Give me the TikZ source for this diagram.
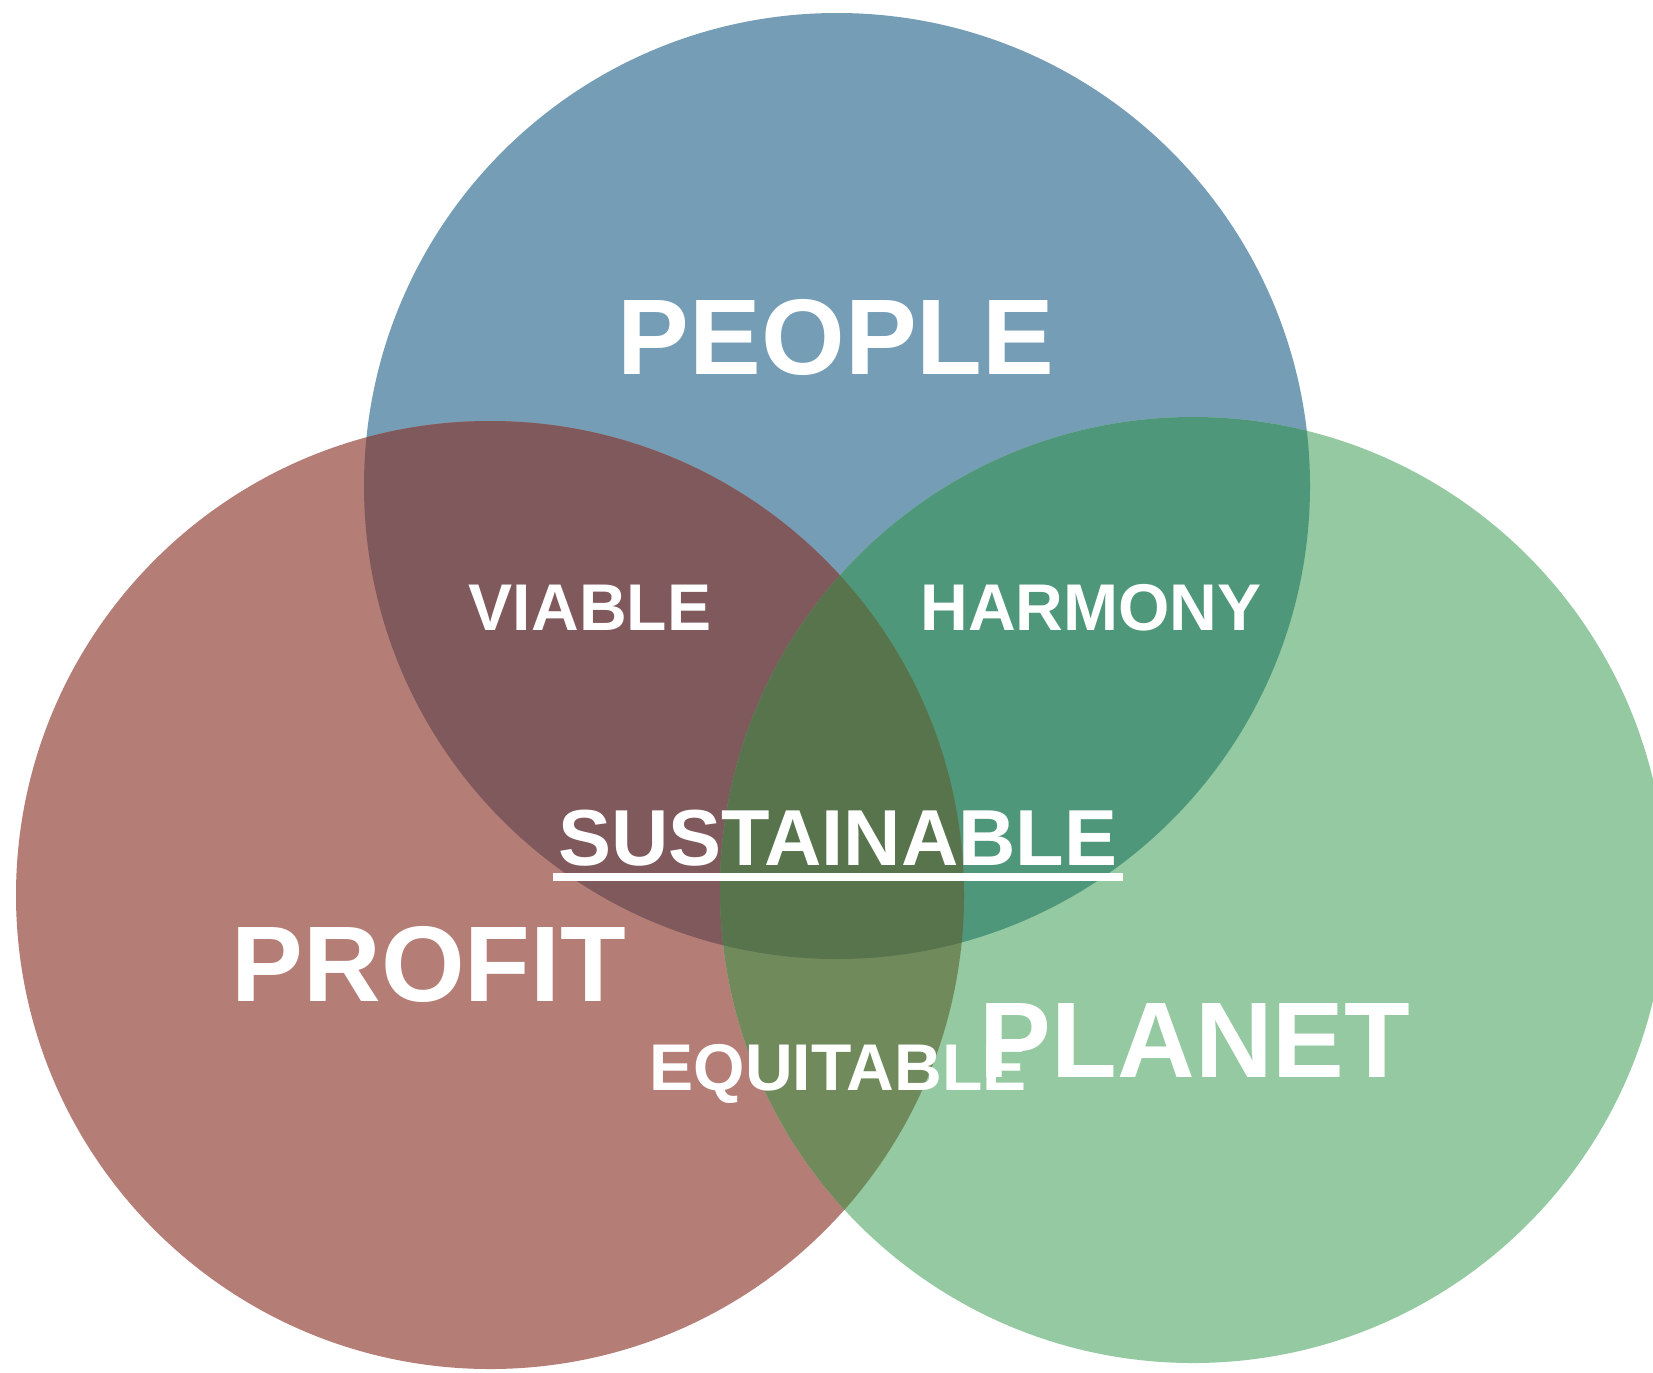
\documentclass[tikz,border=0pt]{standalone}
\usepackage{fontspec}
\setmainfont{Liberation Sans}
\definecolor{blau}{RGB}{117,157,182}
\definecolor{rot}{RGB}{180,125,118}
\definecolor{gruen}{RGB}{148,201,161}
\definecolor{rotblau}{RGB}{127,89,92}
\definecolor{gruenblau}{RGB}{78,151,122}
\definecolor{gruenrot}{RGB}{112,138,92}
\definecolor{mitte}{RGB}{87,116,76}
\begin{document}
\begin{tikzpicture}[x=0.1mm,y=-0.1mm,
  wort/.style={text=white,inner sep=0pt,anchor=base},
  gross/.style={wort,font=\fontsize{30.6}{36}\selectfont\bfseries},
  klein/.style={wort,font=\fontsize{18.8}{22}\selectfont\bfseries}]
  \clip (0,0) rectangle (1653,1372);

  % Mittelpunkte
  \coordinate (M1) at (837,486);
  \coordinate (M2) at (490,895);
  \coordinate (M3) at (1193,890);

  % Kreise
  \fill[blau] (M1) circle (473);
  \fill[rot] (M2) circle (474);
  \fill[gruen] (M3) circle (473);

  % Schnittflaechen
  \begin{scope}
    \clip (M1) circle (473);
    \fill[rotblau] (M2) circle (474);
    \fill[gruenblau] (M3) circle (473);
  \end{scope}
  \begin{scope}
    \clip (M2) circle (474);
    \fill[gruenrot] (M3) circle (473);
    \clip (M1) circle (473);
    \fill[mitte] (M3) circle (473);
  \end{scope}

  % Beschriftung
  \node[gross] (people) at (836,374) {PEOPLE};
  \node[gross] (profit) at (429,1001) {PROFIT};
  \node[gross] (planet) at (1195,1077) {PLANET};
  \node[klein] (viable) at (590,630) {VIABLE};
  \node[klein] (harmony) at (1091,630) {HARMONY};
  \node[klein] (equitable) at (838,1090) {EQUITABLE};
  \node[wort,font=\fontsize{22.6}{26}\selectfont\bfseries] (sustainable) at (838,865) {SUSTAINABLE};
  \draw[white,line width=0.8mm] ([xshift=-0.5mm,yshift=-1.2mm]sustainable.base west) -- ([xshift=0.5mm,yshift=-1.2mm]sustainable.base east);
\end{tikzpicture}
\end{document}
